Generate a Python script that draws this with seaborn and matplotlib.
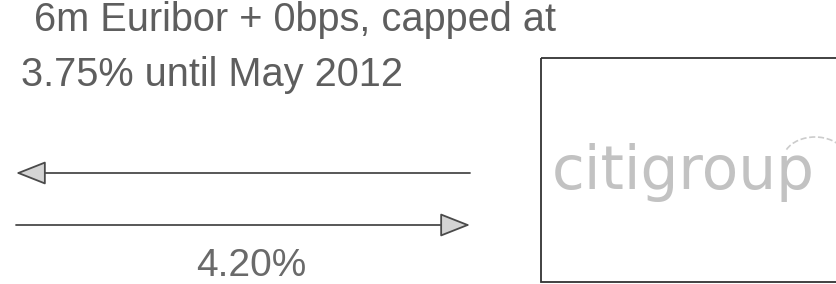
import matplotlib
matplotlib.use("Agg")
import matplotlib.pyplot as plt
import matplotlib.patches as patches
import seaborn as sns

# ── data ─────────────────────────────────────────────────
float_leg    = ["6m Euribor + 0bps, capped at", "3.75% until May 2012"]
fixed_leg    = "4.20%"
counterparty = "citigroup"
leg_dirs     = ["left", "right"]      # upper = floating leg, lower = fixed leg

sns.set_style("white")
plt.rcParams["font.family"] = ["Liberation Sans", "DejaVu Sans"]

W, H = 837, 284
fig = plt.figure(figsize=(W / 100, H / 100), dpi=100)
ax = fig.add_axes([0, 0, 1, 1])
ax.set_xlim(0, W); ax.set_ylim(H, 0)
ax.axis("off")

txt_col = "#5e5e5e"

# floating leg label
ax.text(34, 20, float_leg[0], fontsize=28.6, color=txt_col, va="center", ha="left")
ax.text(21, 75, float_leg[1], fontsize=28.6, color=txt_col, va="center", ha="left")

# arrows
arrow_y = [173, 225]
for y, d in zip(arrow_y, leg_dirs):
    x0, x1 = (470, 16) if d == "left" else (16, 470)
    ax.annotate("", xy=(x1, y), xytext=(x0, y),
                arrowprops=dict(arrowstyle="-|>,head_length=1.9,head_width=0.75",
                                lw=1.3, color="#4a4a4a", fc="#d4d4d4",
                                shrinkA=0, shrinkB=0))

# fixed leg label
ax.text(251, 276, fixed_leg, fontsize=28, color="#6a6a6a", va="baseline", ha="center")

# counterparty box
box = patches.Rectangle((541, 58), 320, 224, fill=False, ec="#333333", lw=1.3)
ax.add_patch(box)
ax.text(552, 173, counterparty, fontsize=43, color="#c2c2c2", va="center",
        ha="left", family="DejaVu Sans")
arc = patches.Arc((815, 160), 64, 46, theta1=200, theta2=340, color="#cccccc",
                  lw=1.2, ls="--")
ax.add_patch(arc)

fig.savefig("out.png", dpi=100)
